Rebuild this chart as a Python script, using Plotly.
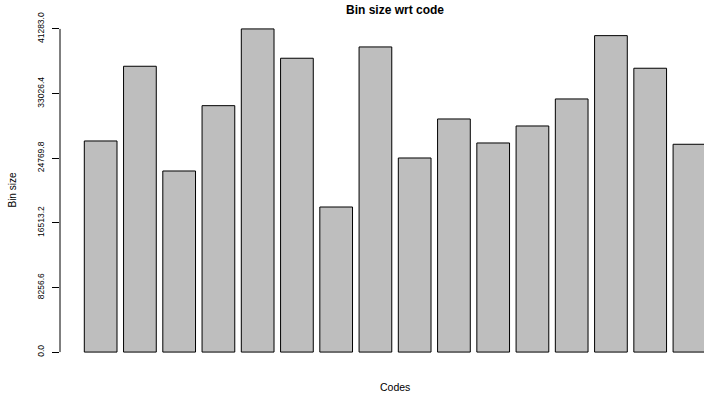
import plotly.graph_objects as go

codes = [f"C{i}" for i in range(1, 17)]
bin_sizes = [26968, 36515, 23134, 31480, 41283, 37538, 18532, 38982,
             24795, 29780, 26712, 28885, 32336, 40426, 36260, 26546]
tick_vals = [0.0, 8256.6, 16513.2, 24769.8, 33026.4, 41283.0]
tick_text = ["0.0", "8256.6", "16513.2", "24769.8", "33026.4", "41283.0"]

# R barplot positions: width 1, space 0.2
x_pos = [0.7 + 1.2 * i for i in range(len(bin_sizes))]
ymax = max(bin_sizes)

FONT = "Liberation Sans, Arial, Helvetica, sans-serif"

fig = go.Figure(go.Bar(
    x=x_pos, y=bin_sizes, width=1.0,
    marker=dict(color="#BEBEBE", line=dict(color="black", width=1)),
    hovertext=codes,
))

fig.update_layout(
    width=704, height=393,
    margin=dict(l=60, r=0, t=16, b=28),
    plot_bgcolor="white", paper_bgcolor="white",
    showlegend=False,
    font=dict(family=FONT, color="black"),
    xaxis=dict(range=[-0.543, 19.145], showticklabels=False, ticks="",
               showgrid=False, zeroline=False, showline=False),
    yaxis=dict(range=[-0.04 * ymax, 1.04 * ymax], tickvals=tick_vals,
               ticktext=tick_text, ticks="outside", ticklen=7,
               tickcolor="black", tickwidth=1, tickangle=-90,
               ticklabelstandoff=5,
               tickfont=dict(size=8.5, color="black", family=FONT),
               showgrid=False, zeroline=False, showline=False),
    shapes=[dict(type="line", xref="paper", yref="y", x0=0, x1=0,
                 y0=tick_vals[0], y1=tick_vals[-1],
                 line=dict(color="black", width=1))],
    annotations=[
        dict(text="<b>Bin size wrt code</b>", xref="paper", yref="paper",
             x=0.52, y=1.016, xanchor="center", yanchor="middle",
             showarrow=False, font=dict(size=12, family=FONT)),
        dict(text="Codes", xref="paper", yref="paper",
             x=0.52, y=-0.063, xanchor="center", yanchor="middle",
             showarrow=False, font=dict(size=10.5, family=FONT)),
        dict(text="Bin size", xref="paper", yref="paper",
             x=-0.0745, y=0.5, xanchor="center", yanchor="middle",
             textangle=-90, showarrow=False, font=dict(size=10, family=FONT)),
    ],
)

fig.write_html("out.html")
